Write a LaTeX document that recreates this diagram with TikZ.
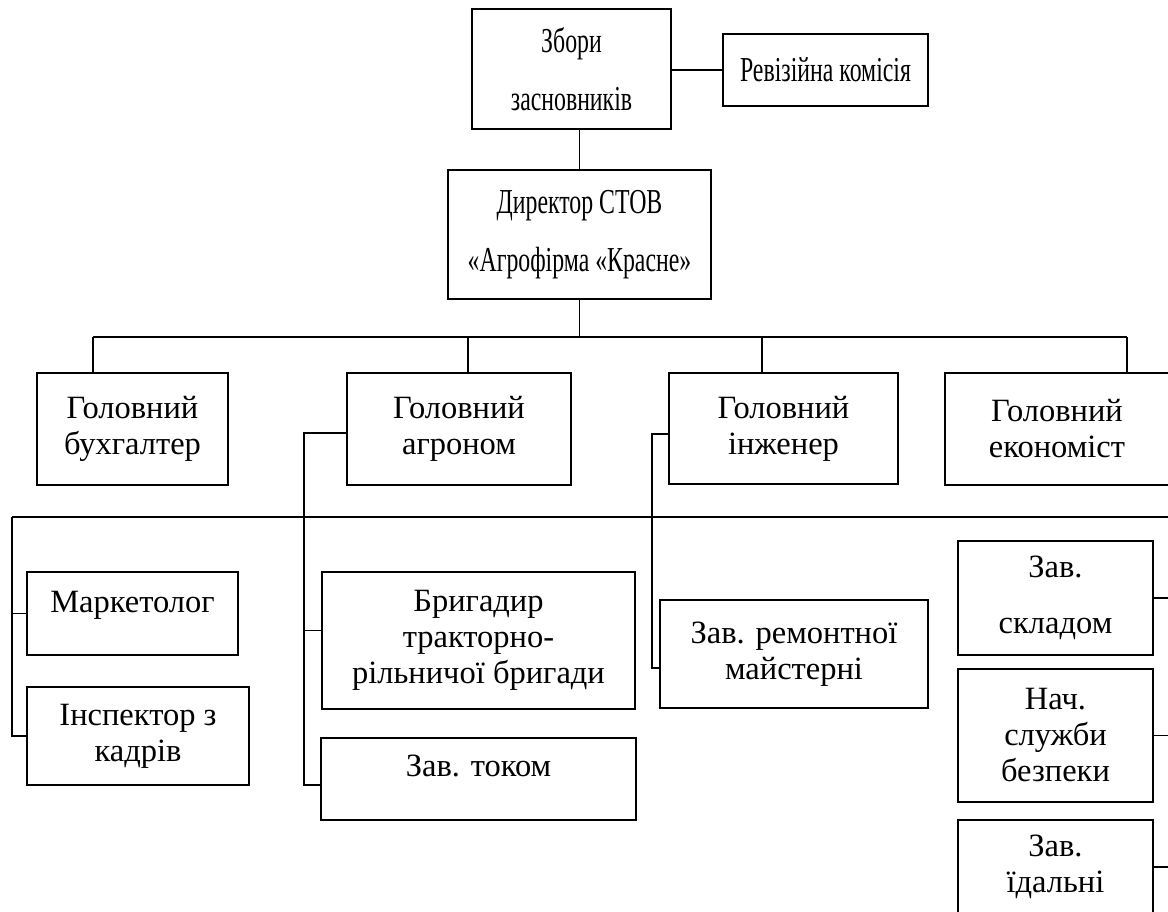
\documentclass[tikz,border=0pt]{standalone}
\usepackage{fontspec}
\setmainfont{Liberation Serif}
\newfontfamily\narrowfont[FakeStretch=0.68]{Liberation Serif}
\usetikzlibrary{positioning}

\begin{document}
\begin{tikzpicture}[x=1pt,y=-1pt,line width=1.4pt,
    box/.style={draw, align=center, inner sep=0pt, font=\fontsize{32.5}{36}\selectfont},
    tall/.style={draw, align=center, inner sep=0pt, font=\narrowfont\fontsize{35}{58}\selectfont}]
    \useasboundingbox (0,0) rectangle (1168,911);
    \clip (0,0) rectangle (1168,911);
    \node[tall, minimum width=199, minimum height=120] at(571.5,69)(zb){Збори\\засновників};
    \node[tall, minimum width=205, minimum height=72] at(825.5,70)(rk){Ревізійна комісія};
    \node[tall, minimum width=263, minimum height=129] at(579.5,234.5)(dr){Директор СТОВ\\«Агрофірма «Красне»};
    \draw (zb.east |- rk.west) -- (rk.west);
    \draw (dr.north) -- (dr.north |- zb.south);
    \node[box, minimum width=191, minimum height=112] at(132.5,429)(buh){Головний\\бухгалтер};
    \node[box, minimum width=224, minimum height=112] at(459,429)(agro){Головний\\агроном};
    \node[box, minimum width=229, minimum height=111] at(783.5,428.5)(inzh){Головний\\інженер};
    \node[box, minimum width=224, minimum height=112] at(1057,429)(ekon){Головний\\економіст};
    \coordinate (d1) at(93,337);
    \coordinate (d2) at(468,337);
    \coordinate (d3) at(762,337);
    \coordinate (d4) at(1127,337);
    \draw (dr.south) -- (dr.south |- d1);
    \draw (d1) -- (d4);
    \foreach \d/\n in {d1/buh,d2/agro,d3/inzh,d4/ekon}
        \draw (\d) -- (\d |- \n.north);
    \node[box, minimum width=211, minimum height=83, text depth=24pt] at(132.5,613.5)(mk){Маркетолог};
    \node[box, minimum width=222, minimum height=98] at(138,736)(insp){Інспектор з\\кадрів};
    \node[box, minimum width=313, minimum height=137] at(478.5,640.5)(brig){Бригадир\\тракторно-\\рільничої бригади};
    \node[box, minimum width=315, minimum height=82, text depth=26pt] at(478.5,779)(tok){Зав. током};
    \node[box, minimum width=268, minimum height=108] at(794,654)(rem){Зав. ремонтної\\майстерні};
    \node[box, minimum width=195, minimum height=114] at(1055.5,598)(skl){Зав.\\[20pt]складом};
    \node[box, minimum width=195, minimum height=133] at(1055.5,735.5)(nach){Нач.\\служби\\безпеки};
    \node[box, minimum width=195, minimum height=94] at(1055.5,867)(idal){Зав.\\їдальні};
    \coordinate (l3) at(12,517);
    \coordinate (r3) at(1170,517);
    \draw (l3) -- (r3);
    \draw (l3) |- (insp.west);
    \draw (l3 |- mk.west) -- (mk.west);
    \coordinate (a1) at(304,433);
    \coordinate (bs) at([yshift=10pt]brig.west);
    \coordinate (ts) at([yshift=-6pt]tok.west);
    \draw (agro.west |- a1) -- (a1) |- (ts);
    \draw (a1 |- bs) -- (bs);
    \coordinate (i1) at(652,434);
    \coordinate (rs) at([yshift=-14pt]rem.west);
    \draw (inzh.west |- i1) -- (i1) |- (rs);
    \foreach \n in {skl,nach,idal}
        \draw (\n.east) -- (\n.east -| r3);
\end{tikzpicture}
\end{document}
